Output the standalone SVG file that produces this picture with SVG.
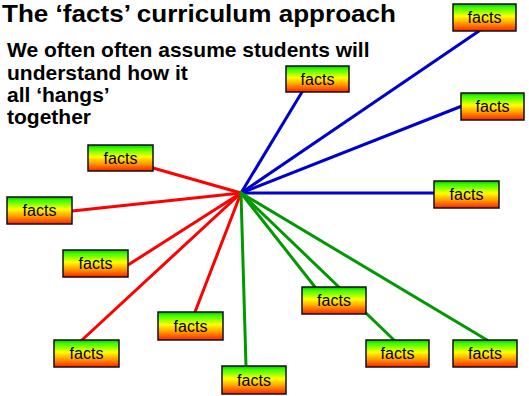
<svg xmlns="http://www.w3.org/2000/svg" width="529" height="396" viewBox="0 0 529 396">
<defs>
<linearGradient id="fg" x1="0" y1="0" x2="0" y2="1">
<stop offset="0" stop-color="#1fb000"/>
<stop offset="0.12" stop-color="#33ff00"/>
<stop offset="0.45" stop-color="#ffff00"/>
<stop offset="0.72" stop-color="#ff9900"/>
<stop offset="1" stop-color="#ff2000"/>
</linearGradient>
</defs>
<style>
.box rect.b{fill:url(#fg);stroke:#111;stroke-width:1.5}
.box text{font-family:"Liberation Sans",Arial,sans-serif;font-size:16px;fill:#000;text-anchor:middle}
.t{font-family:"Liberation Sans",Arial,sans-serif;font-weight:bold;fill:#000}
.c line{stroke-width:3;stroke-linecap:round}
.bl{stroke:#0000cc}
.rd{stroke:#ff0000}
.gr{stroke:#009900}
</style>
<text class="t" x="2" y="22" font-size="24" textLength="394" lengthAdjust="spacingAndGlyphs">The ‘facts’ curriculum approach</text>
<g class="t" font-size="21">
<text x="7" y="57">We often often assume students will</text>
<text x="7" y="80">understand how it</text>
<text x="7" y="102">all ‘hangs’</text>
<text x="7" y="124">together</text>
</g>
<g class="c" id="connectors">
<line class="bl" x1="241" y1="193" x2="302" y2="92"/>
<line class="bl" x1="241" y1="193" x2="479" y2="31"/>
<line class="bl" x1="241" y1="193" x2="462" y2="106"/>
<line class="bl" x1="241" y1="193" x2="434" y2="193"/>
<line class="rd" x1="241" y1="193" x2="153" y2="168"/>
<line class="rd" x1="241" y1="193" x2="72" y2="211"/>
<line class="rd" x1="241" y1="193" x2="128" y2="265"/>
<line class="rd" x1="241" y1="193" x2="82" y2="340"/>
<line class="rd" x1="241" y1="193" x2="195" y2="312"/>
<line class="gr" x1="241" y1="193" x2="246" y2="366"/>
<line class="gr" x1="241" y1="193" x2="315" y2="287"/>
<line class="gr" x1="241" y1="193" x2="394" y2="340"/>
<line class="gr" x1="241" y1="193" x2="487" y2="340"/>
</g>
<g class="box" id="n1"><rect class="b" x="453" y="4" width="63" height="27"/><text x="484.5" y="23">facts</text></g>
<g class="box" id="n2"><rect class="b" x="286" y="66" width="63" height="26"/><text x="317.5" y="84.5">facts</text></g>
<g class="box" id="n3"><rect class="b" x="461" y="93" width="63" height="27"/><text x="492.5" y="112">facts</text></g>
<g class="box" id="n4"><rect class="b" x="88" y="145" width="65" height="26"/><text x="120.5" y="163.5">facts</text></g>
<g class="box" id="n5"><rect class="b" x="7" y="197" width="65" height="27"/><text x="39.5" y="216">facts</text></g>
<g class="box" id="n6"><rect class="b" x="63" y="250" width="65" height="27"/><text x="95.5" y="269">facts</text></g>
<g class="box" id="n7"><rect class="b" x="434" y="181" width="65" height="27"/><text x="466.5" y="200">facts</text></g>
<g class="box" id="n8"><rect class="b" x="302" y="287" width="64" height="27"/><text x="334" y="306">facts</text></g>
<g class="box" id="n9"><rect class="b" x="158" y="312" width="65" height="28"/><text x="190.5" y="331.5">facts</text></g>
<g class="box" id="n10"><rect class="b" x="54" y="340" width="65" height="27"/><text x="86.5" y="359">facts</text></g>
<g class="box" id="n11"><rect class="b" x="222" y="366" width="64" height="28"/><text x="254" y="385.5">facts</text></g>
<g class="box" id="n12"><rect class="b" x="366" y="340" width="63" height="27"/><text x="397.5" y="359">facts</text></g>
<g class="box" id="n13"><rect class="b" x="453" y="340" width="64" height="27"/><text x="485" y="359">facts</text></g>
</svg>
